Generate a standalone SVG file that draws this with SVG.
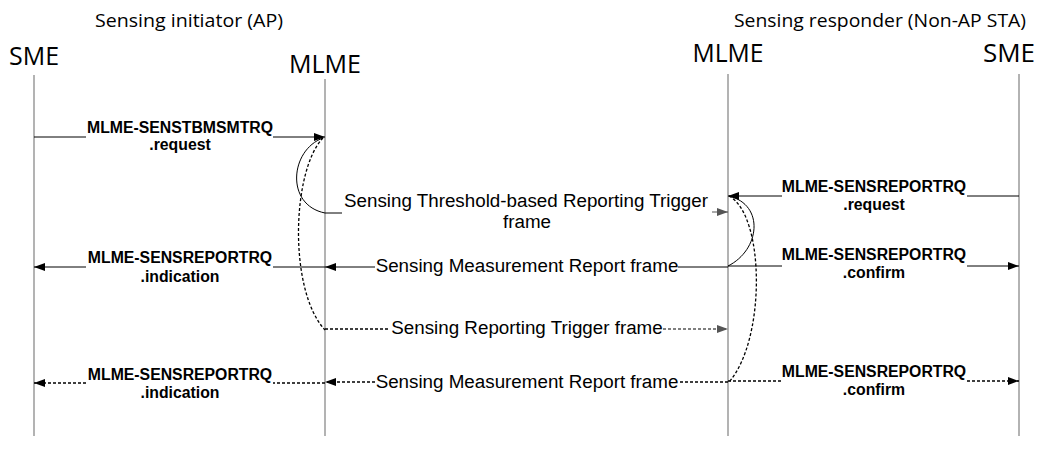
<svg xmlns="http://www.w3.org/2000/svg" width="1046" height="462" viewBox="0 0 1046 462">
<defs>
<style>
.life{stroke:#808080;stroke-width:1.2;fill:none}
.msg{stroke:#000;stroke-width:1;fill:none}
.dash{stroke-dasharray:3,2;stroke-width:1.3}
.gray{stroke:#555}
.title{font-family:"Open Sans","Noto Sans",sans-serif;font-size:17.5px;fill:#000;text-anchor:middle}
.ent{font-family:"Open Sans","Noto Sans",sans-serif;font-size:25px;fill:#000;text-anchor:middle}
.prim{font-family:"Liberation Sans",Arial,sans-serif;font-size:15.8px;font-weight:bold;fill:#000;text-anchor:middle}
.frame{font-family:"Liberation Sans",Arial,sans-serif;font-size:18.8px;fill:#000;text-anchor:middle}
</style>
<marker id="ab" markerWidth="12" markerHeight="9" refX="11" refY="4" orient="auto" markerUnits="userSpaceOnUse">
<path d="M0,0 L11,4 L0,8 z" fill="#000"/>
</marker>
<marker id="ag" markerWidth="12" markerHeight="9" refX="11" refY="4" orient="auto" markerUnits="userSpaceOnUse">
<path d="M0,0 L11,4 L0,8 z" fill="#555"/>
</marker>
</defs>
<rect width="1046" height="462" fill="#fff"/>

<g id="initiator">
<text class="title" x="189" y="27" textLength="188" lengthAdjust="spacingAndGlyphs">Sensing initiator (AP)</text>
</g>
<g id="responder">
<text class="title" x="880" y="27" textLength="292" lengthAdjust="spacingAndGlyphs">Sensing responder (Non-AP STA)</text>
</g>

<g id="sme-left">
<text class="ent" x="34" y="65" textLength="50" lengthAdjust="spacingAndGlyphs">SME</text>
<line class="life" x1="34" y1="75" x2="34" y2="436"/>
</g>
<g id="mlme-left">
<text class="ent" x="325" y="73" textLength="72" lengthAdjust="spacingAndGlyphs">MLME</text>
<line class="life" x1="325" y1="79" x2="325" y2="436"/>
</g>
<g id="mlme-right">
<text class="ent" x="728" y="62" textLength="71" lengthAdjust="spacingAndGlyphs">MLME</text>
<line class="life" x1="728" y1="74" x2="728" y2="436"/>
</g>
<g id="sme-right">
<text class="ent" x="1009" y="62" textLength="52" lengthAdjust="spacingAndGlyphs">SME</text>
<line class="life" x1="1019" y1="74" x2="1019" y2="436"/>
</g>

<g id="connectors">
<path class="msg" d="M34,137 H86"/>
<path class="msg" d="M273,137 H325" marker-end="url(#ab)"/>
<path class="msg" d="M323,138 C290,150 285,205 325,213"/>
<path class="msg" d="M325,213 H342"/>
<path class="msg gray" d="M712,212 H728" marker-end="url(#ag)"/>
<path class="msg" d="M1019,196 H967"/>
<path class="msg" d="M782,196 H728" marker-end="url(#ab)"/>
<path class="msg" d="M729,196 C765,205 760,250 728,266"/>
<path class="msg" d="M728,267 H678"/>
<path class="msg" d="M375,267 H325" marker-end="url(#ab)"/>
<path class="msg" d="M325,267 H273"/>
<path class="msg" d="M86,267 H34" marker-end="url(#ab)"/>
<path class="msg" d="M728,266 H782"/>
<path class="msg" d="M967,266 H1019" marker-end="url(#ab)"/>
<path class="msg dash" d="M323,138 C292,170 288,290 325,330"/>
<path class="msg dash" d="M325,329 H390"/>
<path class="msg dash gray" d="M663,329 H728" marker-end="url(#ag)"/>
<path class="msg dash" d="M729,196 C765,215 766,340 729,382"/>
<path class="msg dash" d="M728,382 H678"/>
<path class="msg dash" d="M375,382 H325" marker-end="url(#ab)"/>
<path class="msg dash" d="M325,383 H273"/>
<path class="msg dash" d="M86,383 H34" marker-end="url(#ab)"/>
<path class="msg dash" d="M728,381 H782"/>
<path class="msg dash" d="M967,381 H1019" marker-end="url(#ab)"/>
</g>

<g id="labels">
<text class="prim" x="180" y="133">MLME-SENSTBMSMTRQ</text>
<text class="prim" x="180" y="150">.request</text>
<text class="frame" x="526" y="207">Sensing Threshold-based Reporting Trigger</text>
<text class="frame" x="527" y="228">frame</text>
<text class="prim" x="874" y="192">MLME-SENSREPORTRQ</text>
<text class="prim" x="874" y="210">.request</text>
<text class="frame" x="527" y="272">Sensing Measurement Report frame</text>
<text class="prim" x="180" y="263">MLME-SENSREPORTRQ</text>
<text class="prim" x="180" y="282">.indication</text>
<text class="prim" x="874" y="260">MLME-SENSREPORTRQ</text>
<text class="prim" x="874" y="278">.confirm</text>
<text class="frame" x="527" y="334">Sensing Reporting Trigger frame</text>
<text class="frame" x="527" y="388">Sensing Measurement Report frame</text>
<text class="prim" x="180" y="380">MLME-SENSREPORTRQ</text>
<text class="prim" x="180" y="398">.indication</text>
<text class="prim" x="874" y="377">MLME-SENSREPORTRQ</text>
<text class="prim" x="874" y="395">.confirm</text>
</g>
</svg>
